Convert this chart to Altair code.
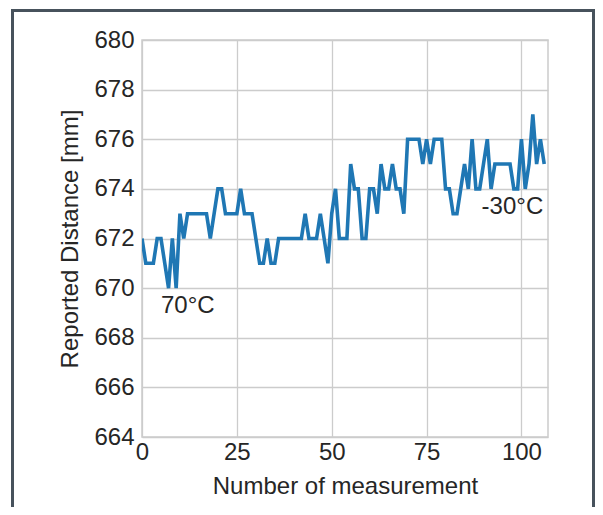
import altair as alt
import pandas as pd

distance = [
    672, 671, 671, 671, 672, 672, 671, 670, 672, 670,
    673, 672, 673, 673, 673, 673, 673, 673, 672, 673,
    674, 674, 673, 673, 673, 673, 674, 673, 673, 673,
    672, 671, 671, 672, 671, 671, 672, 672, 672, 672,
    672, 672, 672, 673, 672, 672, 672, 673, 672, 671,
    673, 674, 672, 672, 672, 675, 674, 674, 672, 672,
    674, 674, 673, 675, 674, 674, 675, 674, 674, 673,
    676, 676, 676, 676, 675, 676, 675, 676, 676, 676,
    674, 674, 673, 673, 674, 675, 674, 676, 674, 674,
    675, 676, 674, 675, 675, 675, 675, 675, 674, 674,
    676, 674, 675, 677, 675, 676, 675,
]
measurement = list(range(len(distance)))

x_ticks = [0, 25, 50, 75, 100]
y_ticks = [664, 666, 668, 670, 672, 674, 676, 678, 680]
x_domain = [0, 107]
y_domain = [664, 680]

ann_text = ["70°C", "-30°C"]
ann_x = [5, 89.5]
ann_y = [669, 673]

df = pd.DataFrame({"n": measurement, "d": distance})
ann = pd.DataFrame({"x": ann_x, "y": ann_y, "t": ann_text})

FONT = "Liberation Sans"
TXT = "#262626"

xscale = alt.Scale(domain=x_domain, nice=False, zero=False)
yscale = alt.Scale(domain=y_domain, nice=False, zero=False)

line = alt.Chart(df).mark_line(color="#1f77b4", strokeWidth=3.6, clip=True).encode(
    x=alt.X("n:Q", scale=xscale,
            axis=alt.Axis(title="Number of measurement", values=x_ticks,
                          labelFlush=False, labelPadding=3, titlePadding=10)),
    y=alt.Y("d:Q", scale=yscale,
            axis=alt.Axis(title="Reported Distance [mm]", values=y_ticks,
                          labelFlush=False, labelPadding=8, titlePadding=11)),
)

text = alt.Chart(ann).mark_text(
    align="left", baseline="alphabetic", fontSize=24, font=FONT, color=TXT
).encode(
    x=alt.X("x:Q", scale=xscale),
    y=alt.Y("y:Q", scale=yscale),
    text="t:N",
)

frame = alt.Chart(pd.DataFrame({"k": [0]})).mark_rect(
    fill="transparent", stroke="#47525c", strokeWidth=3
).encode(
    x=alt.value(-129.5), x2=alt.value(451.5),
    y=alt.value(-29.5), y2=alt.value(500),
)

chart = alt.layer(line, text, frame).properties(
    width=406, height=397,
    autosize=alt.AutoSizeParams(type="none"),
    padding={"left": 134, "top": 32, "right": 47, "bottom": 70},
).configure_view(
    stroke="#cccccc", strokeWidth=1.5
).configure_axis(
    grid=True, gridColor="#cccccc", gridWidth=1.3,
    domain=False, ticks=False, tickSize=0,
    labelFont=FONT, labelFontSize=24, labelColor=TXT,
    titleFont=FONT, titleFontSize=24, titleColor=TXT, titleFontWeight="normal",
)

chart.save("out.html", embed_options={"renderer": "svg", "actions": False})
